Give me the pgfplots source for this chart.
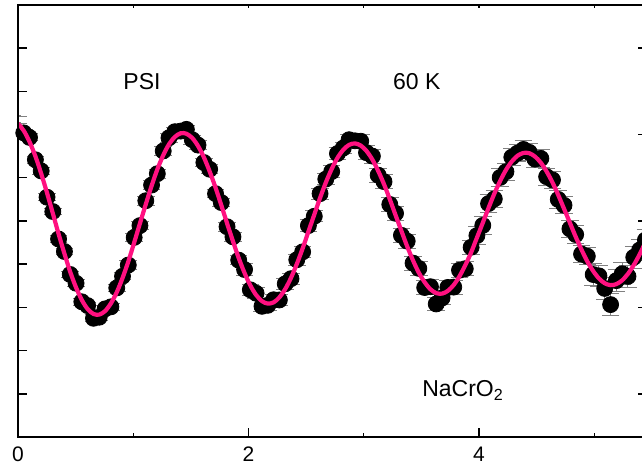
\documentclass[border=0pt]{standalone}
\usepackage{fontspec}
\setmainfont{Liberation Sans}
\usepackage{pgfplots}
\usepackage{pgfplotstable}
\pgfplotsset{compat=1.18}
\definecolor{fitpink}{RGB}{255,16,128}

% t = time, d = measured value, e = error, f = fit curve
\pgfplotstableread{
t d e f
-0.051 7.365 0.08 7.315
-0.001 7.333 0.08 7.253
0.050 7.040 0.08 7.090
0.100 6.934 0.08 6.834
0.151 6.418 0.08 6.498
0.201 6.159 0.08 6.099
0.252 5.550 0.08 5.650
0.302 5.219 0.08 5.179
0.352 4.583 0.08 4.703
0.403 4.294 0.08 4.244
0.453 3.762 0.08 3.822
0.504 3.559 0.08 3.459
0.554 3.130 0.08 3.170
0.604 3.042 0.08 2.962
0.655 2.748 0.08 2.848
0.705 2.773 0.08 2.833
0.756 2.966 0.08 2.916
0.806 3.013 0.08 3.093
0.857 3.451 0.08 3.351
0.907 3.720 0.08 3.680
0.957 3.981 0.10 4.061
1.008 4.619 0.10 4.499
1.058 4.894 0.10 4.944
1.109 5.469 0.10 5.389
1.159 5.832 0.10 5.812
1.209 6.095 0.10 6.195
1.260 6.621 0.10 6.521
1.310 6.925 0.10 6.775
1.361 7.067 0.10 6.947
1.411 7.081 0.10 7.031
1.461 7.121 0.10 7.021
1.512 6.882 0.10 6.922
1.562 6.757 0.10 6.737
1.613 6.354 0.10 6.474
1.663 6.198 0.10 6.148
1.714 5.633 0.10 5.773
1.764 5.426 0.10 5.366
1.814 4.867 0.10 4.947
1.865 4.633 0.10 4.533
1.915 4.094 0.10 4.144
1.966 3.876 0.13 3.796
2.016 3.408 0.13 3.508
2.066 3.328 0.13 3.288
2.117 3.025 0.13 3.145
2.167 3.048 0.13 3.088
2.218 3.177 0.13 3.117
2.268 3.172 0.13 3.232
2.319 3.546 0.13 3.426
2.369 3.665 0.13 3.685
2.419 4.103 0.13 4.003
2.470 4.286 0.13 4.366
2.520 4.894 0.13 4.754
2.571 5.109 0.13 5.149
2.621 5.633 0.13 5.533
2.671 5.970 0.13 5.890
2.722 6.144 0.13 6.204
2.772 6.561 0.13 6.461
2.823 6.690 0.13 6.650
2.873 6.882 0.13 6.762
2.924 6.856 0.13 6.796
2.974 6.847 0.16 6.747
3.024 6.581 0.16 6.621
3.075 6.502 0.16 6.422
3.125 6.061 0.16 6.161
3.176 5.911 0.16 5.851
3.226 5.384 0.16 5.504
3.276 5.178 0.16 5.138
3.327 4.669 0.16 4.769
3.377 4.533 0.16 4.413
3.428 4.025 0.16 4.085
3.478 3.903 0.16 3.803
3.529 3.460 0.16 3.580
3.579 3.479 0.16 3.419
3.629 3.080 0.16 3.330
3.680 3.219 0.16 3.319
3.730 3.463 0.16 3.383
3.781 3.470 0.16 3.520
3.831 3.861 0.16 3.721
3.881 3.896 0.16 3.976
3.932 4.392 0.16 4.272
3.982 4.662 0.20 4.612
4.033 4.898 0.20 4.958
4.083 5.403 0.20 5.303
4.133 5.511 0.20 5.631
4.184 6.008 0.20 5.928
4.234 6.141 0.20 6.181
4.285 6.478 0.20 6.378
4.335 6.572 0.20 6.512
4.386 6.656 0.20 6.576
4.436 6.590 0.20 6.570
4.486 6.432 0.20 6.492
4.537 6.448 0.20 6.348
4.587 6.025 0.20 6.145
4.638 5.951 0.20 5.891
4.688 5.499 0.20 5.599
4.738 5.364 0.20 5.284
4.789 4.818 0.20 4.958
4.839 4.686 0.20 4.636
4.890 4.235 0.20 4.335
4.940 4.184 0.20 4.064
4.991 3.761 0.25 3.841
5.041 3.730 0.25 3.670
5.091 3.439 0.25 3.559
5.142 3.065 0.25 3.515
5.192 3.619 0.25 3.539
5.243 3.778 0.25 3.628
5.293 3.718 0.25 3.778
5.343 4.160 0.25 3.980
5.394 4.327 0.25 4.227
5.444 4.558 0.25 4.508
5.495 4.860 0.25 4.810
}\datatable

\begin{document}
\begin{tikzpicture}
\useasboundingbox (-9pt,-17pt) rectangle (312pt,218.5pt);
\begin{axis}[
  at={(0pt,0pt)}, anchor=south west,
  scale only axis, width=314.5pt, height=216pt,
  xmin=0, xmax=5.458, ymin=0, ymax=10,
  clip mode=individual,
  axis line style={line width=1pt},
  xtick={0,2,4}, minor xtick={1,3,5},
  ytick={1,2,3,4,5,6,7,8,9}, yticklabels={},
  xtick pos=left, ytick pos=left,
  tick align=inside,
  major tick length=4.5pt, minor tick length=2.25pt,
  tick style={line width=0.7pt, black},
  /pgf/number format/assume math mode=true,
  ticklabel style={font=\fontsize{10.5}{12}\selectfont},
  xticklabel shift=1.5pt,
]
\addplot[only marks, mark=*, mark size=4pt, black,
  error bars/.cd, y dir=both, y explicit,
  error bar style={gray, line width=0.5pt},
  error mark options={rotate=90, mark size=4.4pt, gray, line width=0.5pt}]
  table[x=t, y=d, y error=e] {\datatable};
\addplot[color=fitpink, line width=2.1pt, smooth, no marks] table[x=t, y=f] {\datatable};
\node[font=\fontsize{11.5}{13}\selectfont] at (axis cs:1.076,8.22) {PSI};
\node[font=\fontsize{11.5}{13}\selectfont] at (axis cs:3.46,8.22) {60 K};
\node[font=\fontsize{11.5}{13}\selectfont, anchor=base west, inner sep=0pt] at (axis cs:3.505,0.926) {NaCrO\textsubscript{2}};
\end{axis}
\begin{axis}[
  at={(0pt,0pt)}, anchor=south west,
  scale only axis, width=314.5pt, height=216pt,
  xmin=0, xmax=5.458, ymin=0, ymax=10,
  axis line style={line width=1pt},
  xtick={1,2,3,4,5}, xticklabels={},
  ytick={1,3,5,7,9}, yticklabels={},
  xtick pos=right, ytick pos=right,
  tick align=inside,
  major tick length=4.5pt,
  xtick style={/pgfplots/major tick length=1.5pt},
  tick style={line width=0.7pt, black},
]
\end{axis}
\end{tikzpicture}
\end{document}
